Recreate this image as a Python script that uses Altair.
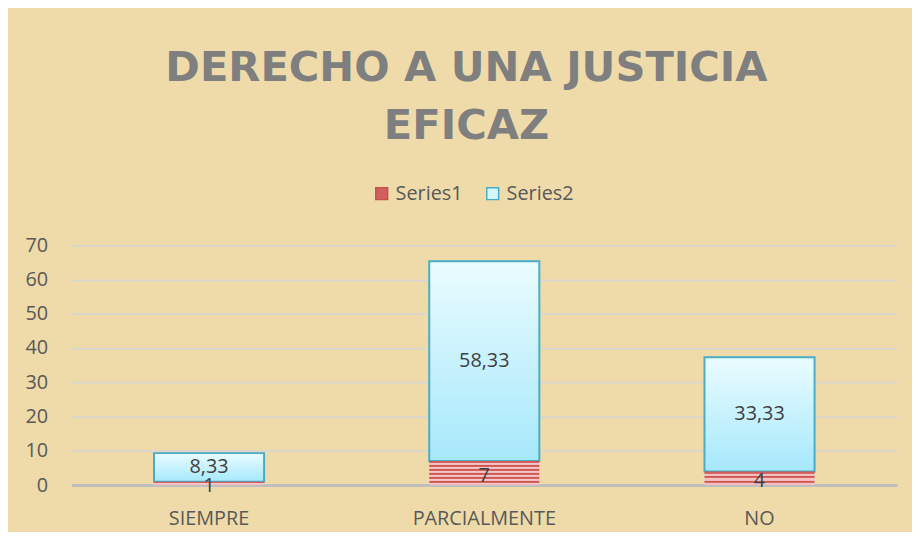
import altair as alt
import pandas as pd

categories = ["SIEMPRE", "PARCIALMENTE", "NO"]
series1 = [1, 7, 4]
series2 = [8.33, 58.33, 33.33]
series_names = ["Series1", "Series2"]
y_ticks = [0, 10, 20, 30, 40, 50, 60, 70]
title_lines = ["DERECHO A UNA JUSTICIA", "EFICAZ"]

df = pd.DataFrame({"cat": categories, "s1": series1, "s2": series2})
legend_df = pd.DataFrame({"series": series_names})

W, H = 833, 242
PX_PER_UNIT = H / 70
LABEL_FONT = "Open Sans"
LABEL_COLOR = "#595959"

y_scale = alt.Scale(domain=[0, 70])
x_enc = alt.X(
    "cat:N",
    sort=categories,
    scale=alt.Scale(paddingInner=0.6, paddingOuter=0.3),
    axis=alt.Axis(
        title=None, labelAngle=0, ticks=False, domain=True,
        domainColor="#bfbfbf", domainWidth=3,
        labelFont=LABEL_FONT, labelFontSize=20, labelColor=LABEL_COLOR,
        labelPadding=24,
    ),
)
y_axis = alt.Axis(
    title=None, values=y_ticks, ticks=False, domain=False,
    grid=True, gridColor="#d6d6d6", gridWidth=1.5,
    labelFont=LABEL_FONT, labelFontSize=20, labelColor=LABEL_COLOR,
    labelPadding=24,
)

blue_grad = alt.LinearGradient(
    gradient="linear", x1=0, x2=0, y1=0, y2=1,
    stops=[alt.GradientStop(offset=0, color="#eafcff"),
           alt.GradientStop(offset=1, color="#a6e8fb")],
)


def stripes(n):
    stops = []
    for k in range(n):
        a, b, c = k / n, (k + 0.5) / n, (k + 1) / n
        stops += [
            alt.GradientStop(offset=a, color="#c9504e"),
            alt.GradientStop(offset=b, color="#d86c6a"),
            alt.GradientStop(offset=b, color="#f5c9c8"),
            alt.GradientStop(offset=c, color="#f1b9b8"),
        ]
    return alt.LinearGradient(gradient="linear", x1=0, x2=0, y1=0, y2=1, stops=stops)


base = alt.Chart(df).transform_calculate(
    top="datum.s1 + datum.s2",
    mid1="datum.s1 / 2",
    mid2="datum.s1 + datum.s2 / 2",
    lab1="replace(format(datum.s1, '.2~f'), '.', ',')",
    lab2="replace(format(datum.s2, '.2~f'), '.', ',')",
)

s2_bars = base.mark_bar(fill=blue_grad, stroke="#4bacc6", strokeWidth=2).encode(
    x=x_enc,
    y=alt.Y("s1:Q", scale=y_scale, axis=y_axis),
    y2="top:Q",
)

s1_layers = []
for c, v in zip(categories, series1):
    n = max(1, round(v * PX_PER_UNIT / 4))
    s1_layers.append(
        base.transform_filter(alt.datum.cat == c)
        .mark_bar(fill=stripes(n))
        .encode(x=x_enc, y=alt.Y("s1:Q", scale=y_scale, axis=y_axis))
    )

text2 = base.mark_text(font=LABEL_FONT, fontSize=20, color="#404040", baseline="middle").encode(
    x=x_enc, y=alt.Y("mid2:Q", scale=y_scale, axis=y_axis), text="lab2:N"
)
text1 = base.mark_text(font=LABEL_FONT, fontSize=20, color="#404040", baseline="middle", dy=3).encode(
    x=x_enc, y=alt.Y("mid1:Q", scale=y_scale, axis=y_axis), text="lab1:N"
)

legend_kw = dict(
    title=None, orient="none", legendX=303, legendY=-62, direction="horizontal",
    labelFont=LABEL_FONT, labelFontSize=20, labelColor=LABEL_COLOR,
    symbolType="square", symbolSize=144, labelOffset=4, columnPadding=20,
    symbolStrokeWidth=1.5,
)

legend_layer = alt.Chart(legend_df).mark_square(size=0, opacity=1, strokeWidth=1.5).encode(
    color=alt.Color(
        "series:N",
        scale=alt.Scale(domain=series_names, range=["#d0605e", "#d4f6fe"]),
        legend=alt.Legend(**legend_kw),
    ),
    stroke=alt.Stroke(
        "series:N",
        scale=alt.Scale(domain=series_names, range=["#c9504e", "#4bacc6"]),
        legend=alt.Legend(**legend_kw),
    ),
)

chart = alt.layer(s2_bars, *s1_layers, text2, text1, legend_layer).properties(
    width=W,
    height=H,
    autosize=alt.AutoSizeParams(type="none"),
    padding={"left": 64, "top": 237, "right": 15, "bottom": 45},
    background="#eedba9",
    title=alt.TitleParams(
        text=title_lines, font="DejaVu Sans", fontSize=42, fontWeight="bold",
        color="#7f7f7f", lineHeight=59, anchor="middle", frame="group", dx=-18,
        offset=36,
    ),
).configure_view(stroke=None)

chart.save("out.html", embed_options={"renderer": "svg", "actions": False})
